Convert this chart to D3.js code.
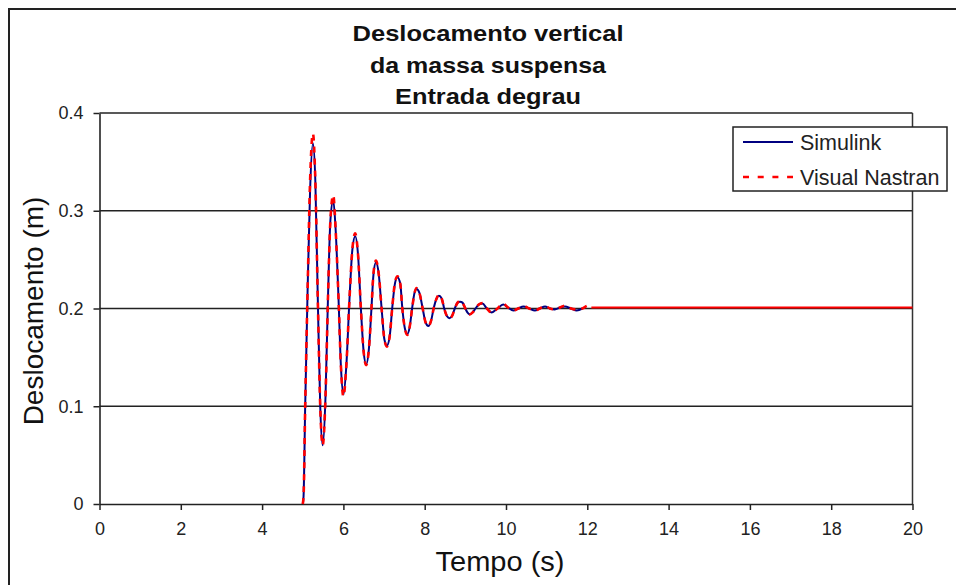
<!DOCTYPE html>
<html>
<head>
<meta charset="utf-8">
<script src="https://cdn.jsdelivr.net/npm/d3@7"></script>
<style>
  body { margin: 0; background: #fff; }
  svg { display: block; font-family: "Liberation Sans", Arial, sans-serif; }
</style>
</head>
<body>
<svg width="956" height="585"></svg>
<script>
// tempo (s)
var time = [5.00, 5.02, 5.06, 5.12, 5.18, 5.25, 5.31, 5.37, 5.43,
  5.49, 5.56, 5.62, 5.68, 5.75, 5.81, 5.88, 5.94, 6.00, 6.07,
  6.15, 6.22, 6.29, 6.36, 6.43, 6.50, 6.56, 6.63, 6.69, 6.74,
  6.80, 6.87, 6.94, 7.01, 7.07, 7.14, 7.20, 7.27, 7.33, 7.40,
  7.45, 7.51, 7.57, 7.63, 7.69, 7.75, 7.80, 7.87, 7.95, 8.02,
  8.09, 8.16, 8.22, 8.29, 8.35, 8.42, 8.48, 8.55, 8.61, 8.68,
  8.74, 8.81, 8.87, 8.93, 9.00, 9.05, 9.11, 9.18, 9.25, 9.33,
  9.42, 9.53, 9.65, 9.79, 9.93, 10.05, 10.18, 10.30, 10.43, 10.57,
  10.71, 10.83, 10.96, 11.08, 11.20, 11.33, 11.45, 11.60, 11.74, 11.88,
  12.02, 12.10, 20];

var simulink = [0, 0.008, 0.10, 0.22, 0.32, 0.369, 0.33, 0.21, 0.10,
  0.060, 0.11, 0.21, 0.29, 0.311, 0.28, 0.21, 0.14, 0.112, 0.14,
  0.21, 0.26, 0.274, 0.255, 0.20, 0.155, 0.143, 0.16, 0.20, 0.235,
  0.247, 0.235, 0.20, 0.168, 0.162, 0.172, 0.20, 0.226, 0.232, 0.225,
  0.20, 0.18, 0.174, 0.181, 0.20, 0.216, 0.220, 0.216, 0.20, 0.186,
  0.182, 0.188, 0.20, 0.210, 0.213, 0.210, 0.20, 0.192, 0.190, 0.193,
  0.20, 0.206, 0.207, 0.206, 0.20, 0.196, 0.194, 0.196, 0.20, 0.204,
  0.205, 0.200, 0.196, 0.200, 0.204, 0.201, 0.198, 0.200, 0.202, 0.200,
  0.198, 0.200, 0.202, 0.200, 0.199, 0.201, 0.202, 0.200, 0.198, 0.200,
  null, null, null];

var nastran = [0, 0.008, 0.10, 0.22, 0.33, 0.379, 0.33, 0.21, 0.10,
  0.060, 0.11, 0.21, 0.29, 0.316, 0.28, 0.21, 0.14, 0.110, 0.14,
  0.21, 0.26, 0.277, 0.255, 0.20, 0.155, 0.142, 0.16, 0.20, 0.236,
  0.249, 0.235, 0.20, 0.168, 0.161, 0.172, 0.20, 0.227, 0.233, 0.225,
  0.20, 0.18, 0.173, 0.181, 0.20, 0.216, 0.221, 0.216, 0.20, 0.186,
  0.182, 0.188, 0.20, 0.210, 0.214, 0.210, 0.20, 0.192, 0.190, 0.193,
  0.20, 0.206, 0.208, 0.206, 0.20, 0.196, 0.194, 0.196, 0.20, 0.204,
  0.2055, 0.200, 0.1957, 0.200, 0.205, 0.201, 0.198, 0.200, 0.2026, 0.200,
  0.198, 0.200, 0.2026, 0.200, 0.199, 0.201, 0.203, 0.200, 0.199, 0.200,
  0.203, 0.201, 0.201];

var xTicks = [0, 2, 4, 6, 8, 10, 12, 14, 16, 18, 20];
var yTicks = [0, 0.1, 0.2, 0.3, 0.4];
var titleLines = ["Deslocamento vertical", "da massa suspensa", "Entrada degrau"];
var seriesNames = ["Simulink", "Visual Nastran"];

var svg = d3.select("svg");

// moldura externa (sai da imagem pela direita e por baixo)
svg.append("rect")
    .attr("x", 9).attr("y", 9)
    .attr("width", 1000).attr("height", 700)
    .attr("fill", "none").attr("stroke", "#222").attr("stroke-width", 2);

var x = d3.scaleLinear().domain([0, 20]).range([99.5, 912.5]);
var y = d3.scaleLinear().domain([0, 0.4]).range([504, 113]);

// linhas de grade
svg.append("g")
    .selectAll("line")
    .data(yTicks.slice(1))
    .enter().append("line")
    .attr("x1", x(0)).attr("x2", x(20))
    .attr("y1", function(d) { return y(d); })
    .attr("y2", function(d) { return y(d); })
    .attr("stroke", "#222").attr("stroke-width", 1.6);

// borda direita da area do grafico
svg.append("line")
    .attr("x1", x(20)).attr("x2", x(20))
    .attr("y1", y(0.4)).attr("y2", y(0))
    .attr("stroke", "#333").attr("stroke-width", 1.5);

var xAxis = svg.append("g")
    .attr("transform", "translate(0," + y(0) + ")")
    .call(d3.axisBottom(x).tickValues(xTicks).tickSize(6).tickSizeOuter(0).tickPadding(12)
      .tickFormat(d3.format("d")));

var yAxis = svg.append("g")
    .attr("transform", "translate(" + x(0) + ",0)")
    .call(d3.axisLeft(y).tickValues(yTicks).tickSize(6).tickSizeOuter(0).tickPadding(10)
      .tickFormat(function(d) { return d === 0 ? "0" : d3.format(".1f")(d); }));

[xAxis, yAxis].forEach(function(a) {
  a.select(".domain").attr("stroke", "#222").attr("stroke-width", 1.6);
  a.selectAll(".tick line").attr("stroke", "#222").attr("stroke-width", 1.5);
  a.selectAll(".tick text")
    .attr("font-family", "Liberation Sans, Arial, sans-serif")
    .attr("font-size", 18).attr("fill", "#222");
});

var points = time.map(function(t, i) { return {t: t, s: simulink[i], n: nastran[i]}; });

var lineS = d3.line()
    .defined(function(d) { return d.s !== null; })
    .x(function(d) { return x(d.t); })
    .y(function(d) { return y(d.s); })
    .curve(d3.curveMonotoneX);

var lineN = d3.line()
    .x(function(d) { return x(d.t); })
    .y(function(d) { return y(d.n); })
    .curve(d3.curveMonotoneX);

var lastDashed = time.indexOf(12.10);

svg.append("path")
    .datum(points)
    .attr("d", lineS)
    .attr("fill", "none").attr("stroke", "#000080").attr("stroke-width", 2);

svg.append("path")
    .datum(points.slice(0, lastDashed + 1))
    .attr("d", lineN)
    .attr("fill", "none").attr("stroke", "#ff0000").attr("stroke-width", 2.6)
    .attr("stroke-dasharray", "6,6");

svg.append("path")
    .datum(points.slice(lastDashed))
    .attr("d", lineN)
    .attr("fill", "none").attr("stroke", "#ff0000").attr("stroke-width", 2);

// titulo
var tLen = [271, 236, 186];
var tBase = [41, 73, 104];
svg.append("g").selectAll("text")
    .data(titleLines)
    .enter().append("text")
    .attr("x", 488)
    .attr("y", function(d, i) { return tBase[i]; })
    .attr("text-anchor", "middle")
    .attr("font-weight", "bold")
    .attr("font-size", 22)
    .attr("fill", "#111")
    .attr("textLength", function(d, i) { return tLen[i]; })
    .attr("lengthAdjust", "spacingAndGlyphs")
    .text(function(d) { return d; });

// titulos dos eixos
svg.append("text")
    .attr("x", 500).attr("y", 571)
    .attr("text-anchor", "middle")
    .attr("font-size", 28).attr("fill", "#111")
    .attr("textLength", 129).attr("lengthAdjust", "spacingAndGlyphs")
    .text("Tempo (s)");

svg.append("text")
    .attr("transform", "translate(43,311) rotate(-90)")
    .attr("text-anchor", "middle")
    .attr("font-size", 28).attr("fill", "#111")
    .text("Deslocamento (m)");

// legenda
var legend = svg.append("g");
legend.append("rect")
    .attr("x", 733).attr("y", 127)
    .attr("width", 214).attr("height", 64)
    .attr("fill", "#fff").attr("stroke", "#222").attr("stroke-width", 1.5);

var legY = [142, 177];
legend.selectAll("line.key")
    .data(seriesNames)
    .enter().append("line")
    .attr("class", "key")
    .attr("x1", 743).attr("x2", 793)
    .attr("y1", function(d, i) { return legY[i]; })
    .attr("y2", function(d, i) { return legY[i]; })
    .attr("stroke", function(d, i) { return i ? "#ff0000" : "#000080"; })
    .attr("stroke-width", function(d, i) { return i ? 2.6 : 2; })
    .attr("stroke-dasharray", function(d, i) { return i ? "6,8.7" : null; });

legend.selectAll("text")
    .data(seriesNames)
    .enter().append("text")
    .attr("x", 800)
    .attr("y", function(d, i) { return legY[i] + 8; })
    .attr("font-size", 21.5).attr("fill", "#222")
    .text(function(d) { return d; });
</script>
</body>
</html>
